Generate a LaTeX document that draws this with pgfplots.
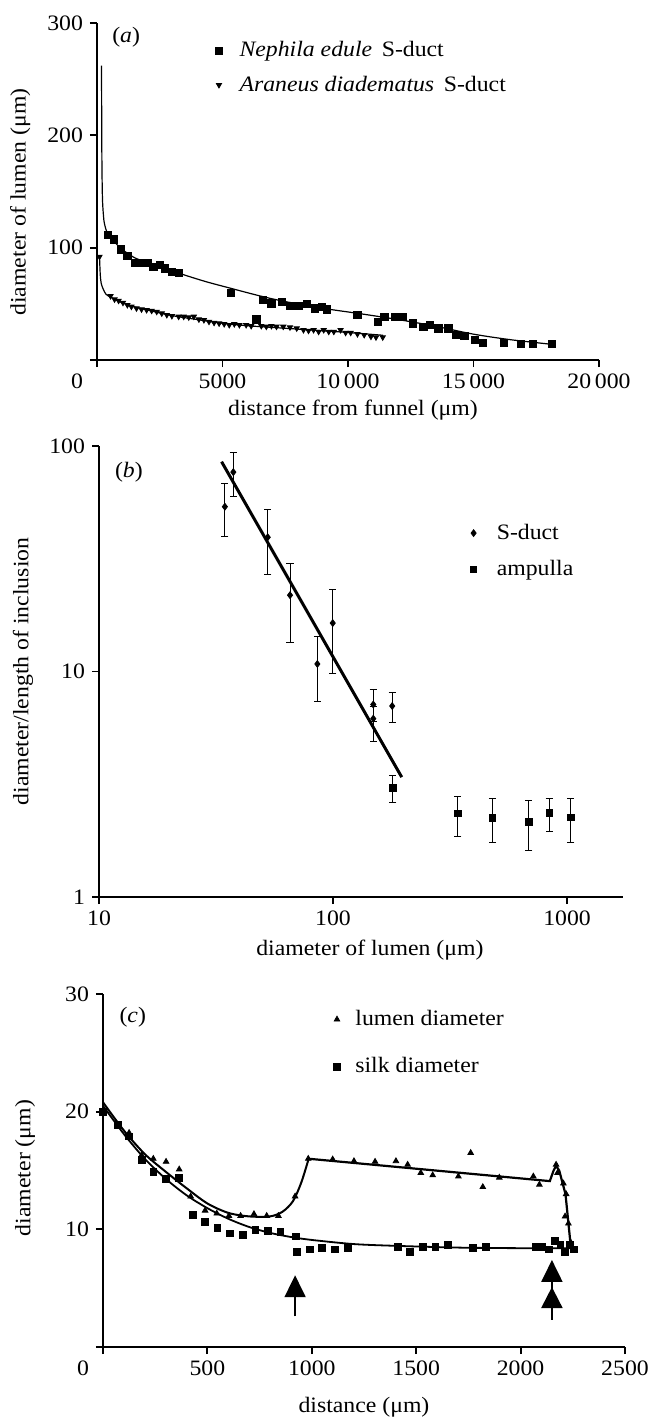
\documentclass[border=0pt]{standalone}
\usepackage{fontspec}
\setmainfont{Liberation Serif}[FakeStretch=1.08]
\usepackage{pgfplots}
\pgfplotsset{compat=1.18}
\usetikzlibrary{arrows.meta}

\newcommand\fs{\fontsize{11}{13}\selectfont}

\pgfplotsset{
  panel/.style={
    scale only axis,
    axis x line*=bottom, axis y line*=left,
    axis line style={-, line width=1pt},
    tick align=outside,
    major tick length=3.5pt,
    every tick/.style={black, line width=0.9pt},
    tick label style={font=\fs},
    label style={font=\fs},
    /pgf/number format/assume math mode=true,
    scaled ticks=false,
    clip=false,
    legend cell align=left,
    legend image code/.code={\draw[mark repeat=2,mark phase=2,##1] plot coordinates {(0pt,0pt) (3pt,0pt) (6pt,0pt)};},
    legend style={draw=none, fill=none, font=\fs, inner sep=0pt, column sep=6pt,
      nodes={inner sep=0pt}, anchor=north west},
  },
}

\begin{document}
\begin{tikzpicture}
\useasboundingbox (0,0) rectangle (324.5pt,-709pt);
\clip (0,0) rectangle (324.5pt,-709pt);

% (a) lumen diameter along the duct
\begin{axis}[panel,
  at={(48.5pt,-180pt)}, anchor=south west,
  width=251pt, height=168.5pt,
  xmin=0, xmax=20000, ymin=0, ymax=300,
  xtick={0,5000,10000,15000,20000},
  xticklabels={\makebox[0pt][r]{0\kern7pt},5000,10\,000,15\,000,20\,000},
  ytick={0,100,200,300}, yticklabels={,100,200,300},
  xlabel={distance from funnel (μm)},
  ylabel={diameter of lumen (μm)},
  xlabel style={at={(axis description cs:0.51,-0.148)}, anchor=center},
  ylabel style={at={(axis description cs:-0.153,0.469)}, anchor=center},
  legend style={at={(axis description cs:0.235,0.946)}, row sep=8pt},
]
\addplot[only marks, mark=square*, mark size=1.8pt] coordinates {
  (430,111.3) (672,107.4) (941,98.5) (1210,92.6) (1505,86.1) (1774,86.1)
  (2042,86.1) (2244,83.1) (2513,84.6) (2715,81.6) (2984,78.6) (3253,77.7)
  (5336,59.9) (6350,36.2) (6613,53.4) (6949,50.4) (7352,51.9) (7688,48.1)
  (8024,48.1) (8360,49.9) (8696,46.0) (8965,47.5) (9166,45.1) (10376,40.1)
  (11182,34.1) (11451,38.6) (11854,38.6) (12190,38.6) (12594,32.6) (13000,29.7)
  (13264,31.2) (13600,28.2) (14003,28.2) (14300,22.3) (14640,21.3) (15060,17.8)
  (15380,15.4) (16220,15.4) (16880,14.4) (17370,14.4) (18130,14.4)
};
\addlegendentry{\hspace{2.5pt}\textit{Nephila edule}\, S-duct}
\addplot[only marks, mark=triangle*, mark size=1.5pt, mark options={rotate=180}] coordinates {
  (100,92) (538,57) (699,54) (860,52.8) (1035,51.0) (1210,49.0) (1371,47.5)
  (1573,46.0) (1774,45.1) (1976,44.5) (2177,43.9) (2379,43.0) (2580,41.5)
  (2782,40.1) (2984,39.2) (3253,38.6) (3454,38.6) (3656,38.0) (3857,38.6)
  (4059,36.2) (4260,35.6) (4462,34.1) (4664,33.2) (4865,32.6) (5067,32.0)
  (5269,31.2) (5470,32.0) (5672,31.2) (5941,31.2) (6142,30.3) (6546,30.3)
  (6747,29.7) (6949,30.3) (7150,29.7) (7419,29.7) (7688,29.1) (7957,28.2)
  (8226,26.7) (8427,26.1) (8629,26.7) (8830,25.2) (9032,26.7) (9233,25.2)
  (9435,25.2) (9703,26.7) (9905,24.3) (10107,24.3) (10376,23.1) (10645,22.3)
  (10914,20.8) (11115,20.2) (11384,20.2)
};
\addlegendentry{\hspace{2.5pt}\textit{Araneus diadematus}\, S-duct}
\addplot[forget plot, smooth, line width=0.6pt] coordinates {
  (180,262) (188,210) (198,170) (220,142) (260,128) (300,121) (430,112)
  (700,105) (1000,98.5) (1500,91) (2000,87) (2500,83) (3300,77) (4300,70)
  (5300,64) (6500,57) (7500,52) (9000,46) (10400,41.5) (12000,36) (13500,30)
  (15000,23) (16500,18) (18100,14)
};
\addplot[forget plot, smooth, line width=0.6pt] coordinates {
  (100,92) (130,76) (170,68) (250,63) (360,58.5) (540,56) (900,52) (1300,48.5)
  (2000,44.5) (3000,39.5) (4000,36) (5000,32.7) (6000,30.5) (7000,29)
  (8000,27.5) (9000,26) (10000,24.5) (11400,22)
};
\node[font=\fs] at (axis description cs:0.058,0.958) {(\textit{a})};
\end{axis}

% (b) inclusion shape against lumen diameter
\begin{axis}[panel,
  at={(49.5pt,-448.5pt)}, anchor=south west,
  width=262pt, height=225.5pt,
  xmode=log, ymode=log,
  xmin=10, xmax=1734, ymin=1, ymax=100,
  xminorticks=false, yminorticks=false,
  axis line style={-, line width=1.2pt},
  xtick={10,100,1000}, xticklabels={10,100,1000},
  ytick={1,10,100}, yticklabels={1,10,100},
  xlabel={diameter of lumen (μm)},
  ylabel={diameter/length of inclusion},
  xlabel style={at={(axis description cs:0.517,-0.1175)}, anchor=center},
  ylabel style={at={(axis description cs:-0.145,0.5)}, anchor=center},
  legend style={at={(axis description cs:0.708,0.828)}, row sep=9pt},
]
\addplot[only marks, mark=diamond*, mark size=1.7pt,
  error bars/.cd, y dir=both, y explicit,
  error bar style={line width=0.5pt},
  error mark options={mark size=1.8pt, line width=0.5pt, rotate=90}]
  table[x=x, y=y, y error plus=ep, y error minus=em] {
  x     y     ep    em
  34.5  53.8  14.6  14.1
  37.5  76.6  16.8  16.9
  52.6  39.4  12.7  12.5
  65.5  21.8  8.2   8.4
  85.7  10.8  3.5   3.4
  99.7  16.4  6.7   6.6
  148.6 7.14  1.16  1.14
  148.6 6.18  0.82  1.31
  179   7.03  1.02  1.10
};
\addlegendentry{\hspace{4pt}S-duct}
\addplot[only marks, mark=square*, mark size=1.6pt,
  error bars/.cd, y dir=both, y explicit,
  error bar style={line width=0.5pt},
  error mark options={mark size=1.8pt, line width=0.5pt, rotate=90}]
  table[x=x, y=y, y error plus=ep, y error minus=em] {
  x     y     ep    em
  180   3.05  0.42  0.43
  341   2.35  0.45  0.49
  480   2.24  0.50  0.49
  686   2.15  0.53  0.55
  838   2.36  0.38  0.41
  1037  2.25  0.49  0.50
};
\addlegendentry{\hspace{4pt}ampulla}
\addplot[forget plot, line width=1.5pt] coordinates {(33.4,85.2) (196.6,3.40)};
\node[font=\fs] at (axis description cs:0.057,0.942) {(\textit{b})};
\end{axis}

% (c) lumen and silk diameter along the duct
\begin{axis}[panel,
  at={(51.5pt,-673.5pt)}, anchor=south west,
  width=261pt, height=176.5pt,
  xmin=0, xmax=2500, ymin=0, ymax=30,
  xtick={0,500,1000,1500,2000,2500},
  xticklabels={\makebox[0pt][r]{0\kern7pt},500,1000,1500,2000,2500},
  ytick={0,10,20,30}, yticklabels={,10,20,30},
  xlabel={distance (μm)},
  ylabel={diameter (μm)},
  xlabel style={at={(axis description cs:0.5,-0.17)}, anchor=center},
  ylabel style={at={(axis description cs:-0.149,0.507)}, anchor=center},
  legend style={at={(axis description cs:0.441,0.955)}, row sep=14.5pt},
]
\addplot[only marks, mark=triangle*, mark size=1.6pt] coordinates {
  (0,20.0) (125,18.2) (185,16.3) (241,16.0) (302,15.75) (365,15.1) (420,12.8)
  (489,11.6) (545,11.35) (603,11.15) (659,11.15) (723,11.3) (784,11.15)
  (840,11.15) (920,12.8) (983,16.0) (1100,15.95) (1202,15.8) (1303,15.75)
  (1403,15.8) (1459,15.5) (1522,14.8) (1579,14.6) (1702,14.5) (1761,16.5)
  (1819,13.6) (1898,14.4) (2061,14.5) (2090,13.8) (2170,15.5) (2177,14.8)
  (2205,13.9) (2218,13.0) (2213,11.1) (2229,10.5) (2240,8.9)
};
\addlegendentry{\hspace{1.5pt}lumen diameter}
\addplot[only marks, mark=square*, mark size=1.7pt] coordinates {
  (0,20.0) (70,18.9) (125,17.9) (185,15.9) (241,14.9) (302,14.3) (365,14.4)
  (429,11.2) (489,10.6) (548,10.1) (608,9.65) (670,9.5) (730,9.95) (790,9.85)
  (850,9.8) (923,9.4) (929,8.1) (989,8.3) (1049,8.4) (1109,8.3) (1173,8.4)
  (1413,8.5) (1470,8.1) (1532,8.5) (1592,8.5) (1652,8.7) (1772,8.4) (1832,8.5)
  (2071,8.5) (2101,8.5) (2136,8.3) (2165,9.0) (2191,8.7) (2211,8.1) (2237,8.7)
  (2256,8.3)
};
\addlegendentry{\hspace{1.5pt}silk diameter}
\addplot[forget plot, smooth, line width=1pt] coordinates {
  (0,20.8) (100,18.4) (200,16.4) (300,14.9) (400,13.5) (500,12.2) (600,11.4)
  (700,11.1) (800,11.1) (860,11.5) (910,12.4) (950,14.0) (985,16.0)
};
\addplot[forget plot, line width=1.1pt] coordinates {
  (985,16.0) (2140,14.1) (2158,15.0) (2170,15.4) (2185,15.0) (2200,14.0)
  (2215,13.0) (2240,8.6)
};
\addplot[forget plot, smooth, line width=0.9pt] coordinates {
  (0,20.5) (100,18.1) (200,16.0) (300,14.3) (400,12.9) (500,11.8) (600,10.9)
  (700,10.2) (800,9.7) (900,9.35) (1000,9.1) (1200,8.75) (1400,8.6)
  (1700,8.45) (2000,8.4) (2250,8.4)
};
\draw[line width=1pt, -{Triangle[length=11pt, width=10.5pt]}]
  (axis cs:920,2.6) -- (axis cs:920,6.1);
\draw[line width=1pt, -{Triangle[length=10.5pt, width=10.5pt]}]
  (axis cs:2150,2.3) -- (axis cs:2150,5.1);
\draw[line width=1pt, -{Triangle[length=11pt, width=10.5pt]}]
  (axis cs:2150,4.8) -- (axis cs:2150,7.4);
\node[font=\fs] at (axis description cs:0.057,0.935) {(\textit{c})};
\end{axis}
\end{tikzpicture}
\end{document}
